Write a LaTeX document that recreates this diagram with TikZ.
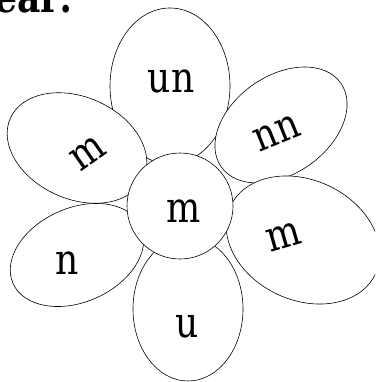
\documentclass[tikz,border=0pt]{standalone}
\usepackage{fontspec}
\setmainfont{DejaVu Serif}[FakeStretch=0.85]
\usetikzlibrary{positioning}

\begin{document}
\begin{tikzpicture}[
	x=1pt, y=-1pt,
	petal/.style={draw=black, fill=white, line width=0.6pt},
	letters/.style={font=\fontsize{42.5}{50}\selectfont, inner sep=0pt},
	heading/.style={font=\fontsize{42.5}{50}\selectfont\bfseries, inner sep=0pt}
	]
	\useasboundingbox (0,0) rectangle (375,382);
	\clip (0,0) rectangle (375,382);

	\node[heading, anchor=base east] (title) at (73,13) {ear:};

	% petals, drawn in this order so they overlap as shown
	\filldraw[petal, shift={(170,86)}] (0,0) ellipse [x radius=60, y radius=78];
	\filldraw[petal, shift={(281,125)}, rotate=35] (0,0) ellipse [x radius=73, y radius=49];
	\filldraw[petal, shift={(303,240)}, rotate=-25] (0,0) ellipse [x radius=80, y radius=60];
	\filldraw[petal, shift={(77,255)}, rotate=24] (0,0) ellipse [x radius=70, y radius=47];
	\filldraw[petal, shift={(188,309)}] (0,0) ellipse [x radius=55, y radius=72];
	\filldraw[petal, shift={(77,148)}, rotate=-24] (0,0) ellipse [x radius=73, y radius=51];
	% heart of the flower
	\filldraw[petal] (180,206) circle [radius=53];

	\node[letters] (top) at (171,81) {un};
	\node[letters, rotate=22] (upright) at (277,133) {nn};
	\node[letters, rotate=16] (lowright) at (284,237) {m};
	\node[letters] (bottom) at (187,327) {u};
	\node[letters] (lowleft) at (67,263) {n};
	\node[letters, rotate=35] (upleft) at (88,153) {m};
	\node[letters] (heart) at (184,211) {m};
\end{tikzpicture}
\end{document}
